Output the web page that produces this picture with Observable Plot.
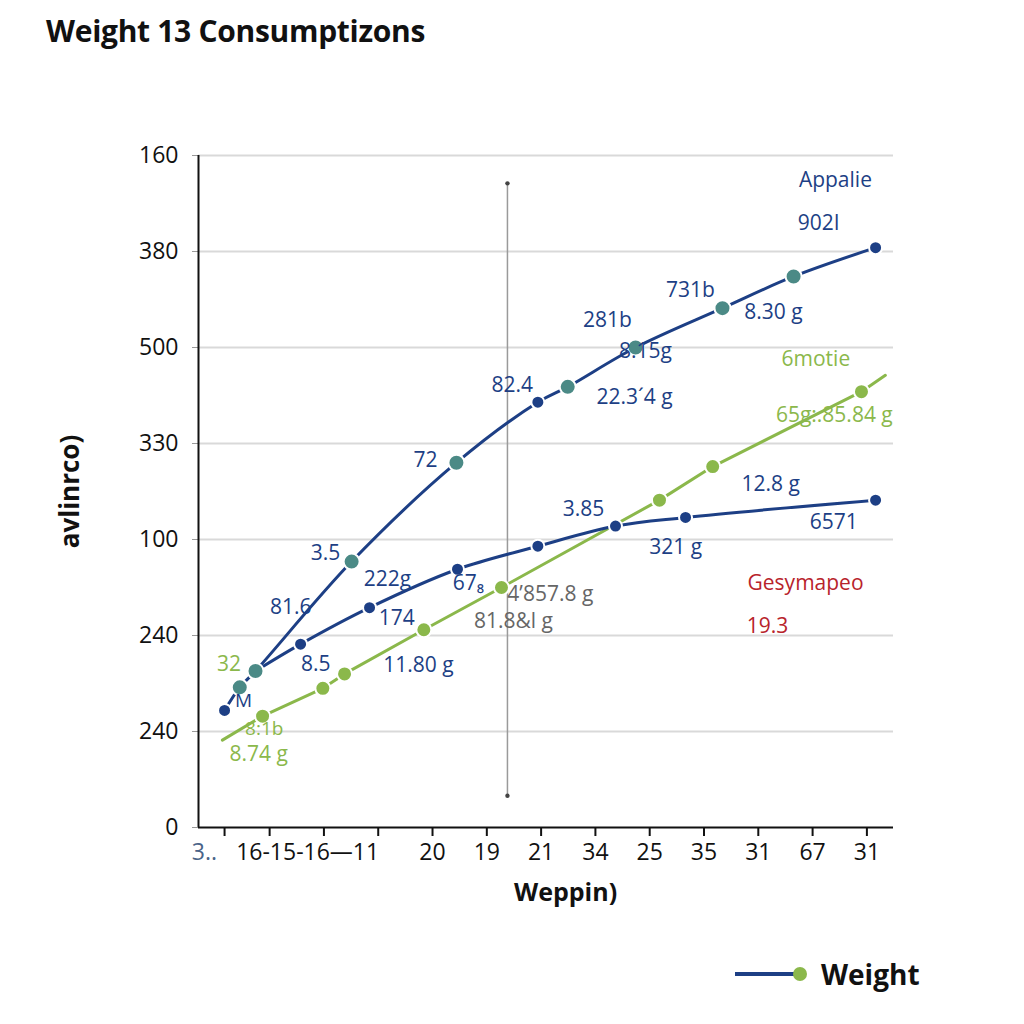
<!DOCTYPE html>
<html><head><meta charset="utf-8">
<script src="https://cdn.jsdelivr.net/npm/d3@7"></script>
<script src="https://cdn.jsdelivr.net/npm/@observablehq/plot@0.6"></script>
<style>
body{margin:0;background:#fff;font-family:"Open Sans",sans-serif;width:1024px;height:1024px;overflow:hidden;position:relative;}
#title{position:absolute;left:46px;top:10px;font-size:30px;font-weight:700;color:#111;letter-spacing:-0.3px;}
#chart{position:absolute;left:0;top:80px;}
#legend{position:absolute;left:733px;top:955px;display:flex;align-items:center;font-weight:700;font-size:28px;color:#111;}
#legend svg{margin-right:12px;}
</style></head><body>
<div id="title">Weight 13 Consumptizons</div>
<div id="chart"></div>
<div id="legend"><svg width="76" height="20"><line x1="2" y1="10" x2="66" y2="10" stroke="#1d3f85" stroke-width="4"/><circle cx="67" cy="10" r="7" fill="#8bb84b"/></svg><span>Weight</span></div>
<script>
// ---- data ----
const yTickLabels = ["0","240","240","100","330","500","380","160"];
const yTickValues = [0,1,2,3,4,5,6,7];
const xTickValues = [0.17,1,2,3,4,5,6,7,8,9,10,11,12];
const xLabelText = ["3..","16-15-16\u201411","20","19","21","34","25","35","31","67","31"];
const xLabelPos = [-0.2,1.7,4,5,6,7,8,9,10,11,12];
const xTitle = "Weppin)";
const yTitle = "avlinrco)";

// upper series (Appalie)
const upperX = [0.17,0.45,0.74,2.51,4.44,5.94,6.49,7.74,9.34,10.65,12.16];
const upperY = [1.22,1.46,1.63,2.77,3.80,4.43,4.59,5.00,5.41,5.74,6.04];
const upperKind = ["end","mid","mid","mid","mid","end","mid","mid","mid","mid","end"];

// lower navy series
const lowerX = [0.74,1.57,2.84,4.46,5.94,7.37,8.66,12.16];
const lowerY = [1.63,1.91,2.29,2.69,2.93,3.14,3.23,3.41];

// green series (6motie)
const greenX = [0.13,0.87,1.98,2.38,3.84,5.27,8.18,9.16,11.90,12.34];
const greenY = [0.91,1.16,1.45,1.60,2.06,2.50,3.41,3.76,4.54,4.71];
const greenHasDot = [false,true,true,true,true,true,true,true,true,false];

// reference line
const refX = 5.38;
const refY = [0.33,6.71];

// annotations
const labelText = ["Appalie","902I","731b","8.30 g","281b","8.15g","6motie","82.4","22.3\u00b44 g","65g:.85.84 g","72","12.8 g","3.85","6571","3.5","321 g","222g","67\u2088","4\u2019857.8 g","Gesymapeo","81.6","174","81.8&l g","19.3","32","8.5","11.80 g","M","8:1b","8.74 g"];
const labelX = [11.42,11.11,8.75,10.28,7.22,7.92,11.06,5.47,7.72,11.40,3.87,10.23,6.78,11.39,2.03,8.48,3.17,4.66,6.17,10.87,1.39,3.34,5.49,10.17,0.25,1.85,3.74,0.52,0.90,0.80];
const labelY = [6.74,6.29,5.60,5.37,5.28,4.96,4.88,4.61,4.48,4.29,3.83,3.58,3.32,3.18,2.86,2.92,2.59,2.54,2.43,2.54,2.29,2.18,2.15,2.10,1.70,1.70,1.69,1.32,1.03,0.76];
const labelGroup = ["a","a","a","a","a","a","g","a","a","g","a","a","a","a","a","a","a","a","n","r","a","a","n","r","g","a","a","a","g","g"];

// ---- styling ----
const NAVY = "#1d3f85", TEAL = "#4b8a86", GREEN = "#8bb84b", GRAY = "#666666", RED = "#b8232b";
const groupColor = {a: NAVY, g: GREEN, n: GRAY, r: RED};
const FONT = "'Open Sans', sans-serif";

const upper = upperX.map((x,i)=>({x, y: upperY[i], kind: upperKind[i]}));
const lower = lowerX.map((x,i)=>({x, y: lowerY[i]}));
const green = greenX.map((x,i)=>({x, y: greenY[i], dot: greenHasDot[i]}));
const labels = labelText.map((t,i)=>({t, x: labelX[i], y: labelY[i], g: labelGroup[i]}));
const xMin = -0.31, xMax = 12.49;

const chart = Plot.plot({
  width: 1024, height: 850,
  marginLeft: 198, marginRight: 131, marginTop: 75, marginBottom: 103,
  x: {domain: [xMin, xMax]},
  y: {domain: [0, 7]},
  style: {fontFamily: FONT, color: "#111", background: "transparent", overflow: "visible"},
  marks: [
    Plot.gridY(yTickValues.slice(1), {stroke: "#d9d9d9", strokeOpacity: 1, strokeWidth: 2}),
    Plot.axisY(yTickValues, {tickFormat: d => yTickLabels[d], tickSize: 6, tickPadding: 14, fontSize: 23, label: null, stroke: "#999"}),
    Plot.axisX(xTickValues, {tickFormat: () => "", tickSize: 9, label: null, strokeWidth: 2}),
    Plot.text(xLabelText, {x: (d,i) => xLabelPos[i], text: d => d, frameAnchor: "bottom", dy: 32, fontSize: 23, fill: (d,i) => i === 0 ? "#4a6488" : "#111"}),
    Plot.text([xTitle], {frameAnchor: "bottom", textAnchor: "middle", dy: 73, fontSize: 25, fontWeight: 700, x: () => 6.45}),
    Plot.text([yTitle], {frameAnchor: "left", textAnchor: "middle", dx: -128, rotate: -90, fontSize: 26, fontWeight: 700}),
    Plot.ruleY([0], {stroke: "#111", strokeWidth: 2}),
    Plot.ruleX([xMin], {stroke: "#111", strokeWidth: 2}),
    Plot.ruleX([refX], {y1: refY[0], y2: refY[1], stroke: "#9a9a9a", strokeWidth: 1.5}),
    Plot.dot(refY, {x: () => refX, y: d => d, r: 2.2, fill: "#444"}),
    Plot.line(green, {x: "x", y: "y", stroke: GREEN, strokeWidth: 3}),
    Plot.line(lower, {x: "x", y: "y", stroke: NAVY, strokeWidth: 3, curve: "catmull-rom"}),
    Plot.line(upper, {x: "x", y: "y", stroke: NAVY, strokeWidth: 3, curve: "catmull-rom"}),
    Plot.dot(green.filter(d => d.dot), {x: "x", y: "y", r: 7.5, fill: GREEN, stroke: "#fff", strokeWidth: 2}),
    Plot.dot(lower.slice(1), {x: "x", y: "y", r: 6.5, fill: NAVY, stroke: "#fff", strokeWidth: 2}),
    Plot.dot(upper.filter(d => d.kind === "mid"), {x: "x", y: "y", r: 8, fill: TEAL, stroke: "#fff", strokeWidth: 2}),
    Plot.dot(upper.filter(d => d.kind === "end"), {x: "x", y: "y", r: 6.5, fill: NAVY, stroke: "#fff", strokeWidth: 2}),
    Plot.text(labels, {x: "x", y: "y", text: "t", fill: d => groupColor[d.g], fontSize: d => (d.t === "M" || d.t === "8:1b") ? 19 : 21})
  ]
});
document.getElementById("chart").appendChild(chart);
</script>
</body></html>
